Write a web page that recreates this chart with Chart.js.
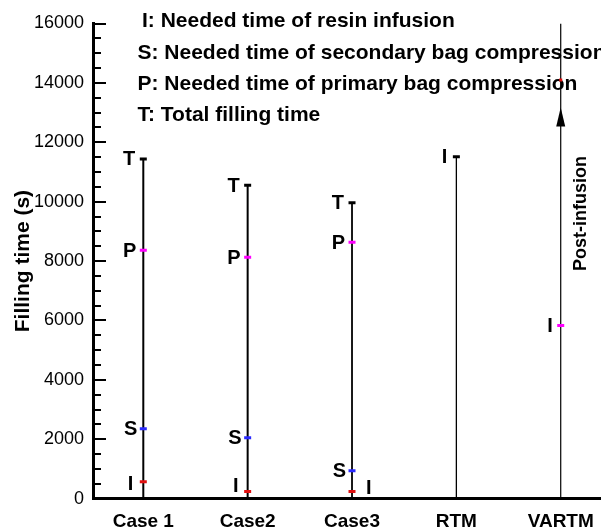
<!DOCTYPE html>
<html><head><meta charset="utf-8">
<script src="https://cdn.jsdelivr.net/npm/chart.js@4.4.0/dist/chart.umd.min.js"></script>
<style>html,body{margin:0;padding:0;background:#fff;}#wrap{width:601px;height:530px;}</style>
</head><body><div id="wrap"><canvas id="c" width="601" height="530"></canvas></div>
<script>
// ---- data ----
const categories = ['Case 1', 'Case2', 'Case3', 'RTM', 'VARTM'];
const totalTime = [11440, 10550, 9960, null, null];          // T
const primaryTime = [8360, 8125, 8630, null, null];          // P
const secondaryTime = [2350, 2050, 940, null, null];         // S
const infusionTime = [570, 235, 235, 11510, 5830];           // I
const lineTop = [11440, 10550, 9960, 11510, 16000];          // top of each vertical line
const postInfusionArrowTip = 13170;
const vartmRedMark = 14100;
const yTickValues = [0, 2000, 4000, 6000, 8000, 10000, 12000, 14000, 16000];
const legendLines = [
  'I: Needed time of resin infusion',
  'S: Needed time of secondary bag compression',
  'P: Needed time of primary bag compression',
  'T: Total filling time'
];

// ---- styles ----
const FONT = '"Liberation Sans", Arial, Helvetica, sans-serif';
const lineWidths = [2, 2, 1.8, 1.3, 1.2];
const infusionColors = ['#e01010', '#e01010', '#e01010', '#000000', '#ff00ff'];

const idx = categories.map((c, i) => i + 1);
function pts(arr) { return arr.map((v, i) => v == null ? null : {x: idx[i], y: v}).filter(p => p); }

const markStyle = {type: 'scatter', pointStyle: 'line', pointRadius: 3.5, pointHoverRadius: 3.5, pointBorderWidth: 3, showLine: false};
const datasets = [
  Object.assign({label: 'T', data: pts(totalTime), borderColor: '#000', backgroundColor: '#000'}, markStyle),
  Object.assign({label: 'P', data: pts(primaryTime), borderColor: '#ff00ff', backgroundColor: '#ff00ff'}, markStyle),
  Object.assign({label: 'S', data: pts(secondaryTime), borderColor: '#2a2aff', backgroundColor: '#2a2aff'}, markStyle),
  Object.assign({label: 'I', data: pts(infusionTime), borderColor: infusionColors, backgroundColor: infusionColors, pointBorderColor: infusionColors}, markStyle),
  Object.assign({label: 'mark', data: [{x: 5, y: vartmRedMark}], borderColor: '#e01010'}, markStyle, {pointRadius: 1.5, pointBorderWidth: 3}),
];
lineTop.forEach((top, i) => {
  datasets.push({type: 'line', label: 'line' + i, data: [{x: idx[i], y: 0}, {x: idx[i], y: top}],
    borderColor: '#000', borderWidth: lineWidths[i], pointRadius: 0, fill: false, tension: 0});
});

// label specs: letter, series, side, offset, dy
const labelSpecs = [];
[0, 1, 2].forEach(i => {
  labelSpecs.push({t: 'T', i, v: totalTime[i], side: 'left', off: 8, dy: 0});
  labelSpecs.push({t: 'P', i, v: primaryTime[i], side: 'left', off: 7, dy: 0});
  labelSpecs.push({t: 'S', i, v: secondaryTime[i], side: 'left', off: 6, dy: 0});
});
labelSpecs.push({t: 'I', i: 0, v: infusionTime[0], side: 'left', off: 10, dy: 2});
labelSpecs.push({t: 'I', i: 1, v: infusionTime[1], side: 'left', off: 9, dy: -6});
labelSpecs.push({t: 'I', i: 2, v: infusionTime[2], side: 'right', off: 14, dy: -4});
labelSpecs.push({t: 'I', i: 3, v: infusionTime[3], side: 'left', off: 9, dy: 0});
labelSpecs.push({t: 'I', i: 4, v: infusionTime[4], side: 'left', off: 8, dy: 0});

const decor = {
  id: 'decor',
  beforeDatasetsDraw(chart) {
    const ctx = chart.ctx;
    ctx.save();
    ctx.fillStyle = '#000';
    ctx.font = 'bold 21px ' + FONT;
    ctx.textAlign = 'left';
    ctx.textBaseline = 'alphabetic';
    const xs = [142, 137.5, 137.5, 137.5];
    const ys = [27, 58.5, 90, 121];
    legendLines.forEach((t, k) => ctx.fillText(t, xs[k], ys[k]));
    ctx.restore();
  },
  afterDraw(chart) {
    const ctx = chart.ctx, xs = chart.scales.x, ys = chart.scales.y, ca = chart.chartArea;
    ctx.save();
    // inward y ticks
    ctx.strokeStyle = '#000';
    ctx.lineWidth = 2;
    ys.ticks.forEach(tk => {
      const y = Math.round(ys.getPixelForValue(tk.value));
      const len = tk.value % 2000 === 0 ? 13 : 8;
      ctx.beginPath();
      ctx.moveTo(ca.left, y);
      ctx.lineTo(ca.left + len, y);
      ctx.stroke();
    });
    // point letters
    ctx.fillStyle = '#000';
    ctx.font = 'bold 20px ' + FONT;
    ctx.textBaseline = 'middle';
    labelSpecs.forEach(s => {
      const x = xs.getPixelForValue(idx[s.i]);
      const y = ys.getPixelForValue(s.v) + s.dy + 1;
      ctx.textAlign = s.side === 'left' ? 'right' : 'left';
      ctx.fillText(s.t, s.side === 'left' ? x - s.off : x + s.off, y);
    });
    // arrow on VARTM
    const ax = xs.getPixelForValue(5), ay = ys.getPixelForValue(postInfusionArrowTip);
    ctx.beginPath();
    ctx.moveTo(ax, ay);
    ctx.lineTo(ax - 4.5, ay + 19);
    ctx.lineTo(ax + 4.5, ay + 19);
    ctx.closePath();
    ctx.fill();
    // Post-infusion text
    ctx.save();
    ctx.translate(ax + 20, ys.getPixelForValue(9600));
    ctx.rotate(-Math.PI / 2);
    ctx.font = 'bold 18px ' + FONT;
    ctx.textAlign = 'center';
    ctx.textBaseline = 'middle';
    ctx.fillText('Post-infusion', 0, 0);
    ctx.restore();
    ctx.restore();
  }
};

new Chart(document.getElementById('c'), {
  type: 'scatter',
  data: {datasets},
  options: {
    responsive: false, animation: false, devicePixelRatio: 1,
    layout: {autoPadding: false, padding: {top: 23.5, right: 0, bottom: 0, left: 0}},
    plugins: {legend: {display: false}, tooltip: {enabled: false}},
    scales: {
      x: {
        type: 'linear', min: 0.518, max: 5.386,
        afterBuildTicks: s => { s.ticks = idx.map(v => ({value: v})); },
        afterFit: s => { s.height = 31.4; s.paddingLeft = 0; s.paddingRight = 0; },
        ticks: {callback: v => categories[v - 1], color: '#000', font: {family: FONT, size: 19, weight: 'bold'}, padding: 0, autoSkip: false, maxRotation: 0},
        grid: {display: false, drawTicks: true, tickLength: 12},
        border: {display: true, width: 3, color: '#000'}
      },
      y: {
        min: 0, max: 16000,
        afterBuildTicks: s => {
          const t = [];
          for (let v = 0; v <= 16000; v += 500) t.push({value: v});
          s.ticks = t;
        },
        afterFit: s => { s.width = 93; },
        ticks: {callback: v => yTickValues.includes(v) ? String(v) : '', color: '#000', font: {family: FONT, size: 18}, padding: 9, autoSkip: false},
        grid: {display: false, drawTicks: false},
        border: {display: true, width: 3, color: '#000'},
        title: {display: true, text: 'Filling time (s)', color: '#000', font: {family: FONT, size: 21, weight: 'bold'}, padding: {top: 11, bottom: 0}}
      }
    }
  },
  plugins: [decor]
});
</script></body></html>
